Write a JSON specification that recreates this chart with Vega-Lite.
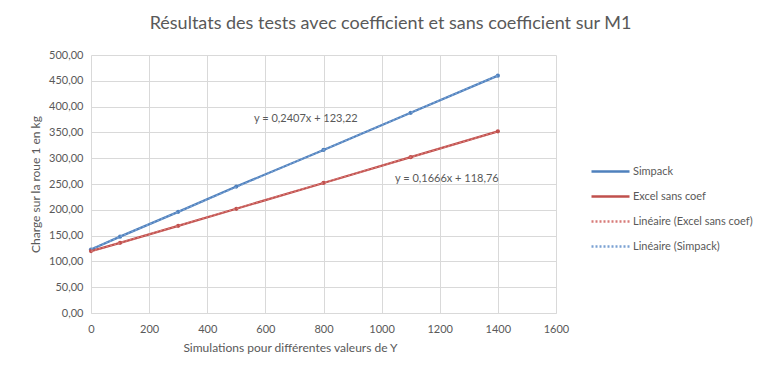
{
  "$schema": "https://vega.github.io/schema/vega-lite/v6.json",
  "width": 465,
  "height": 258,
  "autosize": "none",
  "padding": {"left": 91, "top": 55, "right": 221, "bottom": 65},
  "background": "white",
  "config": {
    "font": "Lato",
    "view": {"stroke": null},
    "axis": {
      "gridColor": "#d9d9d9",
      "labelColor": "#595959",
      "labelFontSize": 11,
      "titleColor": "#595959",
      "titleFontSize": 12,
      "titleFontWeight": "normal",
      "ticks": false
    },
    "legend": {
      "labelColor": "#595959",
      "labelFontSize": 11,
      "symbolType": "M0,0H7.6",
      "symbolStrokeWidth": 2.5,
      "symbolSize": 100,
      "labelOffset": 35
    }
  },
  "title": {
    "text": "Résultats des tests avec coefficient et sans coefficient sur M1",
    "fontSize": 18,
    "fontWeight": "normal",
    "color": "#595959",
    "dx": 67,
    "offset": 16
  },
  "data": {
    "values": [
      {"series": "Simpack", "x": 0, "y": 123},
      {"series": "Simpack", "x": 100, "y": 148},
      {"series": "Simpack", "x": 300, "y": 196},
      {"series": "Simpack", "x": 500, "y": 245},
      {"series": "Simpack", "x": 800, "y": 316},
      {"series": "Simpack", "x": 1100, "y": 388},
      {"series": "Simpack", "x": 1400, "y": 460},
      {"series": "Excel sans coef", "x": 0, "y": 120},
      {"series": "Excel sans coef", "x": 100, "y": 136},
      {"series": "Excel sans coef", "x": 300, "y": 169},
      {"series": "Excel sans coef", "x": 500, "y": 202},
      {"series": "Excel sans coef", "x": 800, "y": 252},
      {"series": "Excel sans coef", "x": 1100, "y": 302},
      {"series": "Excel sans coef", "x": 1400, "y": 352}
    ]
  },
  "encoding": {
    "x": {
      "field": "x",
      "type": "quantitative",
      "scale": {"domain": [0, 1600], "nice": false},
      "axis": {
        "values": [0, 200, 400, 600, 800, 1000, 1200, 1400, 1600],
        "format": "d",
        "title": "Simulations pour différentes valeurs de Y",
        "domainColor": "#d9d9d9",
        "labelPadding": 10,
        "titlePadding": 8,
        "titleX": 199,
        "labelFlush": false
      }
    },
    "y": {
      "field": "y",
      "type": "quantitative",
      "scale": {"domain": [0, 500], "nice": false},
      "axis": {
        "values": [0, 50, 100, 150, 200, 250, 300, 350, 400, 450, 500],
        "labelExpr": "replace(format(datum.value, '.2f'), '.', ',')",
        "title": "Charge sur la roue 1 en kg",
        "domain": false,
        "labelPadding": 8,
        "titlePadding": 6
      }
    }
  },
  "layer": [
    {
      "mark": {"type": "line", "strokeWidth": 2.25},
      "encoding": {
        "color": {
          "field": "series",
          "type": "nominal",
          "scale": {
            "domain": ["Simpack", "Excel sans coef", "Linéaire (Excel sans coef)", "Linéaire (Simpack)"],
            "range": ["#4F81BD", "#C0504D", "#D77B78", "#7BA1D3"]
          },
          "legend": {
            "title": null,
            "orient": "none",
            "legendX": 494,
            "legendY": 110,
            "rowPadding": 13,
            "encode": {
              "symbols": {
                "update": {
                  "strokeDash": {"signal": "indexof(['Linéaire (Excel sans coef)','Linéaire (Simpack)'], datum.value) >= 0 ? [2,2] : []"}
                }
              }
            }
          }
        }
      }
    },
    {
      "mark": {"type": "point", "filled": true, "size": 18, "opacity": 1},
      "encoding": {
        "color": {"field": "series", "type": "nominal"}
      }
    },
    {
      "transform": [
        {"filter": "datum.series === 'Excel sans coef'"},
        {"regression": "y", "on": "x"}
      ],
      "mark": {"type": "line", "strokeDash": [2, 2], "strokeWidth": 1.5},
      "encoding": {"color": {"datum": "Linéaire (Excel sans coef)"}}
    },
    {
      "transform": [
        {"filter": "datum.series === 'Simpack'"},
        {"regression": "y", "on": "x"}
      ],
      "mark": {"type": "line", "strokeDash": [2, 2], "strokeWidth": 1.5},
      "encoding": {"color": {"datum": "Linéaire (Simpack)"}}
    },
    {
      "data": {
        "values": [
          {"label": "y = 0,2407x + 123,22", "x": 561, "y": 376},
          {"label": "y = 0,1666x + 118,76", "x": 1046, "y": 260}
        ]
      },
      "mark": {"type": "text", "align": "left", "baseline": "middle", "fontSize": 11, "color": "#595959"},
      "encoding": {"text": {"field": "label"}}
    }
  ]
}
